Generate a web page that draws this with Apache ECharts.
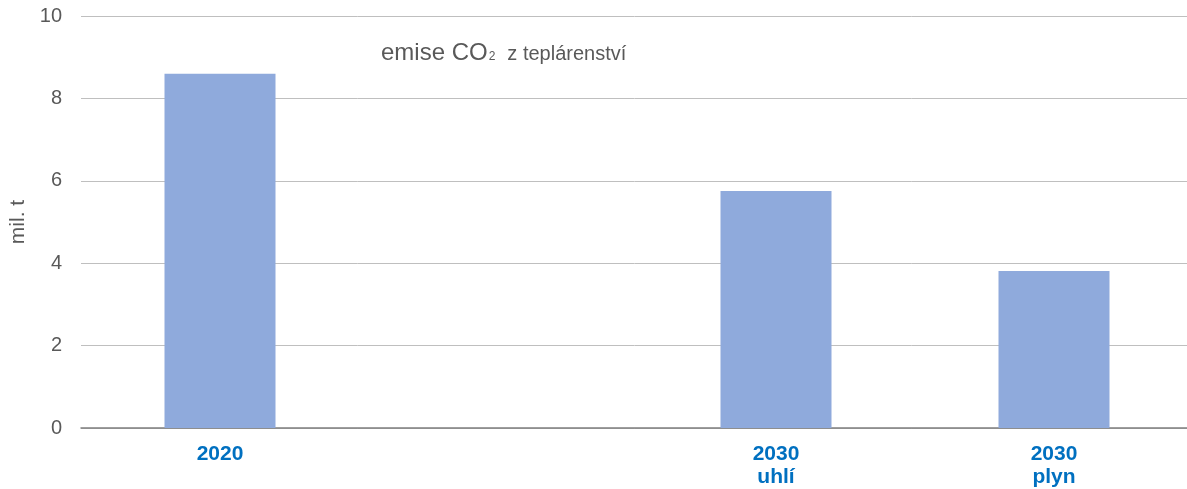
<!DOCTYPE html>
<html>
<head>
<meta charset="utf-8">
<script src="https://cdn.jsdelivr.net/npm/echarts@6/dist/echarts.min.js"></script>
<style>
    html, body {margin: 0; padding: 0; background: #fff;}
    #chart {width: 1187px; height: 489px;}
</style>
</head>
<body>
<div id="chart"></div>
<script>
    var categories = ['2020', '', '2030\nuhlí', '2030\nplyn'];
    var emissions = [8.6, null, 5.75, 3.81];
    var yTicks = [0, 2, 4, 6, 8, 10];

    var chart = echarts.init(document.getElementById('chart'));
    var option = {
        animation: false,
        textStyle: {fontFamily: 'Liberation Sans, Arial, sans-serif'},
        title: {
            text: '{a|emise CO}{s|2}{b|z teplárenství}',
            left: 376,
            top: 36,
            textStyle: {
                fontWeight: 'normal',
                rich: {
                    a: {fontSize: 24, color: '#595959', fontFamily: 'Liberation Sans', fontWeight: 'normal'},
                    s: {fontSize: 12, color: '#595959', fontFamily: 'Liberation Sans', fontWeight: 'normal', padding: [8, 0, 0, 1]},
                    b: {fontSize: 20, color: '#595959', fontFamily: 'Liberation Sans', fontWeight: 'normal', padding: [3, 0, 0, 12]}
                }
            }
        },
        grid: {left: 81, width: 1112, top: 16, bottom: 61, containLabel: false, outerBoundsMode: 'none'},
        xAxis: {
            type: 'category',
            data: categories,
            axisTick: {show: false},
            axisLine: {lineStyle: {color: '#7f7f7f', width: 1.5}},
            axisLabel: {
                color: '#0070C0',
                fontWeight: 'bold',
                fontSize: 21,
                lineHeight: 23,
                margin: 15,
                interval: 0
            }
        },
        yAxis: {
            type: 'value',
            min: yTicks[0],
            max: yTicks[yTicks.length - 1],
            interval: 2,
            name: 'mil. t',
            nameLocation: 'middle',
            nameGap: 52,
            nameTextStyle: {color: '#595959', fontSize: 21},
            axisLine: {show: false},
            axisTick: {show: false},
            axisLabel: {color: '#595959', fontSize: 20, margin: 19},
            splitLine: {lineStyle: {color: '#bfbfbf', width: 1}}
        },
        series: [
            {
                type: 'bar',
                data: emissions,
                barWidth: 111,
                itemStyle: {color: '#8FAADC'}
            }
        ]
    };
    chart.setOption(option);
</script>
</body>
</html>
